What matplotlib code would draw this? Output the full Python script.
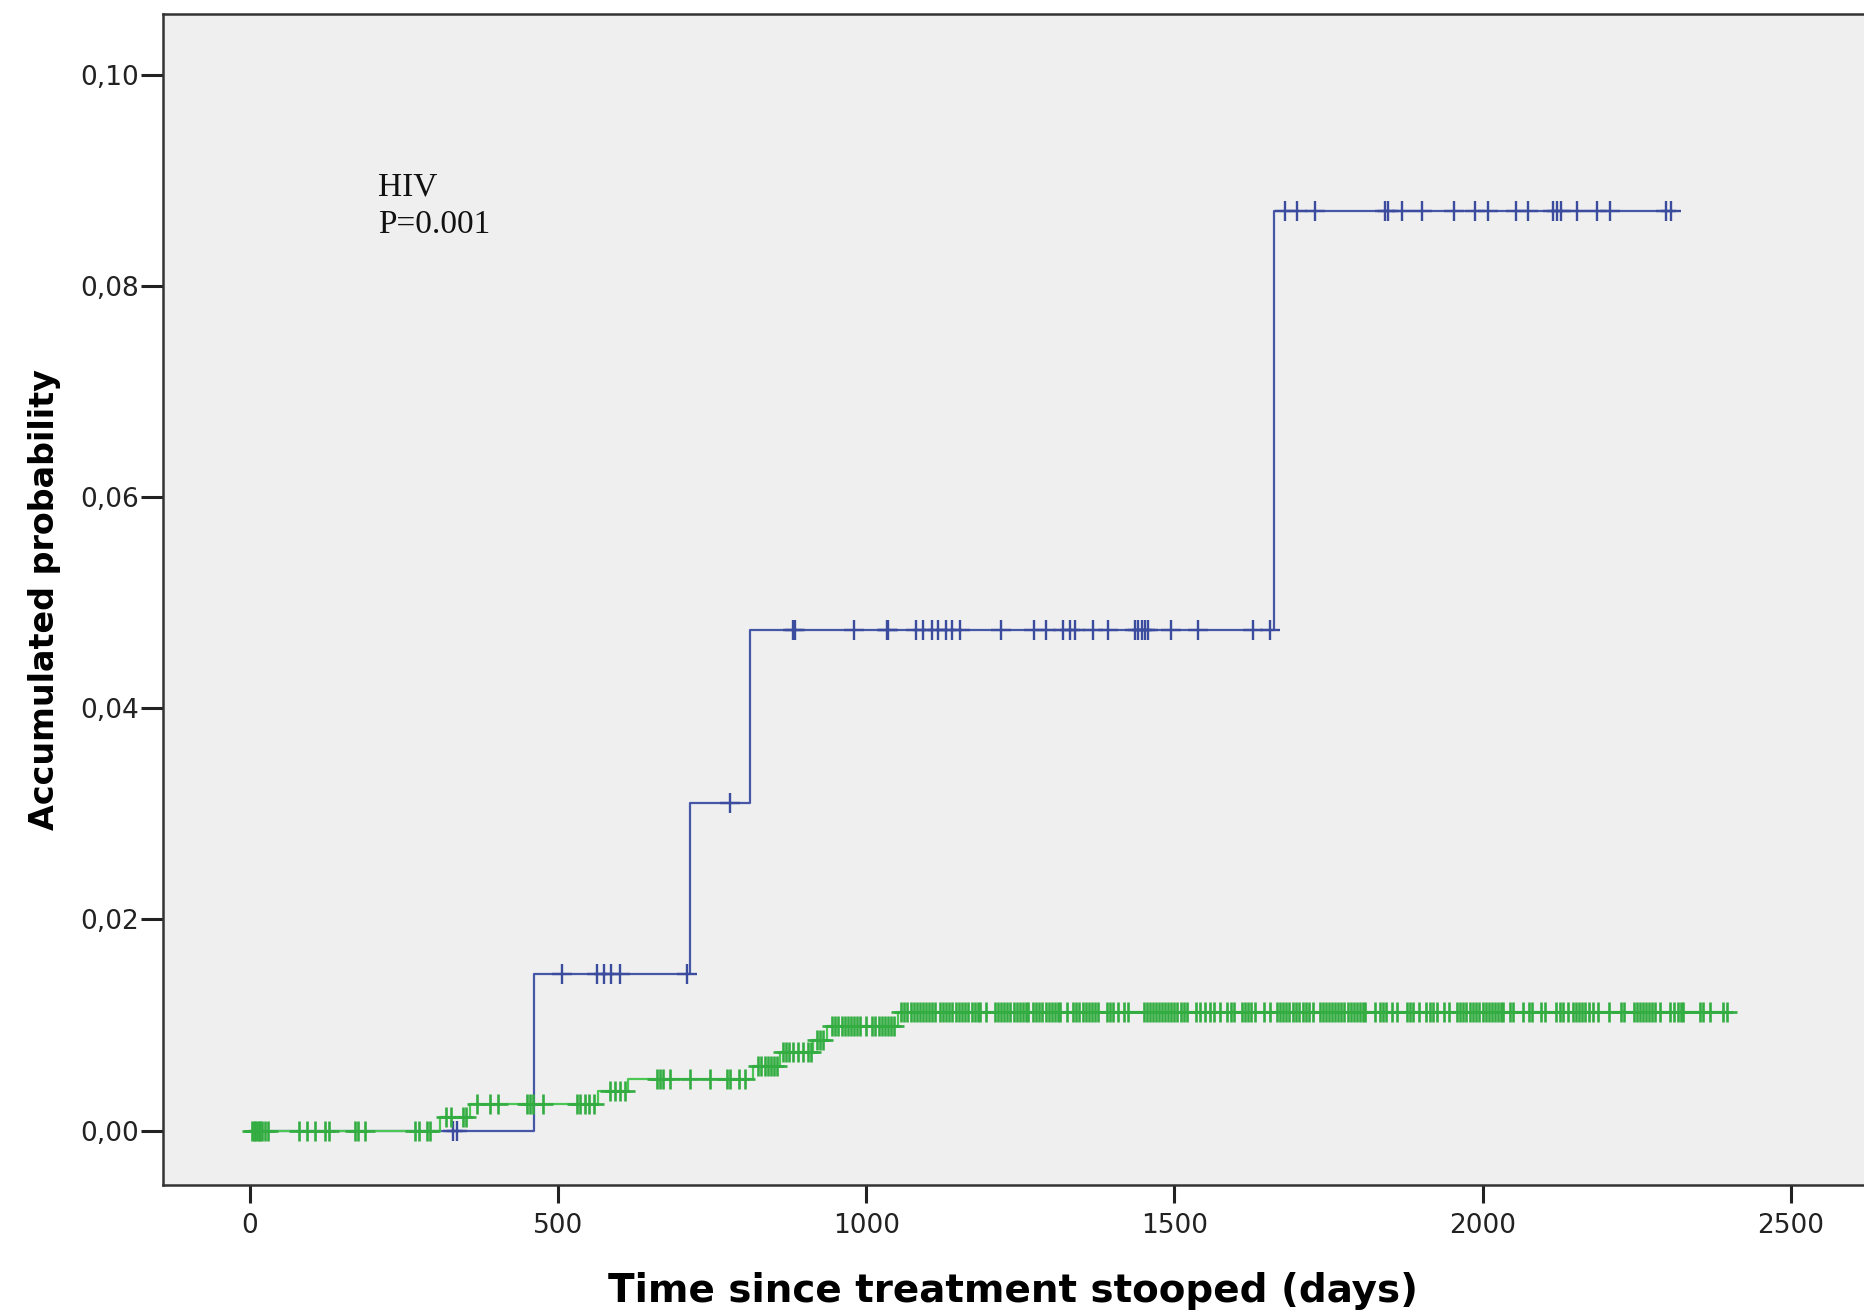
import matplotlib
matplotlib.use("Agg")
import matplotlib.pyplot as plt
import numpy as np

# Kaplan-Meier style cumulative incidence, two groups (HIV+ blue, HIV- green)
blue_event_days = [0, 461, 714, 812, 1661]
blue_levels = [0.0, 0.0148, 0.0310, 0.0474, 0.0871]
blue_censor_days = [
    330, 336,
    507, 563, 575, 586, 600, 710,
    779,
    882, 885, 981, 1033, 1036, 1081, 1092, 1106, 1117, 1129, 1140, 1152,
    1218, 1272, 1291, 1320, 1331, 1338, 1368, 1393, 1436, 1441, 1447, 1452,
    1458, 1495, 1539, 1627, 1656,
    1680, 1699, 1728, 1842, 1846, 1870, 1902, 1953, 1988, 2009, 2054, 2074,
    2115, 2121, 2128, 2153, 2185, 2207, 2298, 2306,
]

green_event_days = [0, 309, 357, 565, 614, 817, 860, 914, 936, 1052]
green_levels = [0.0, 0.00124, 0.00248, 0.0037, 0.0049, 0.0061, 0.0074, 0.0086, 0.0099, 0.0112]
green_censor_days = [
    3, 6, 9, 12, 14, 17, 20, 25, 30, 79, 93, 106, 122, 128, 171, 176, 187,
    268, 274, 287, 293,
    318, 326, 346, 350,
    368, 389, 403, 449, 455, 460, 476, 530, 536, 544, 550, 558,
    585, 593, 601, 609,
    660, 666, 671, 682, 714, 747, 774, 779, 793, 804,
    825, 830, 835, 840, 845, 850, 855,
    865, 870, 875, 882, 890, 898, 905, 910,
    920, 925, 930,
    945, 950, 955, 960, 965, 970, 975, 980, 985, 990, 1000, 1010, 1015, 1020,
    1025, 1030, 1035, 1040, 1045,
    1057, 1062, 1067, 1072, 1077, 1082, 1087, 1092, 1097, 1102, 1107, 1112,
    1120, 1125, 1130, 1135, 1140, 1145, 1150, 1155, 1160, 1165,
    1171, 1176, 1181, 1185, 1195,
    1209, 1214, 1219, 1224, 1229, 1234, 1239, 1244, 1249, 1254, 1259, 1263,
    1271, 1276, 1281, 1286, 1291, 1296, 1301, 1306, 1311, 1315,
    1325, 1336, 1341, 1346, 1351, 1356, 1361, 1366, 1371, 1376,
    1390, 1395, 1400, 1408, 1418, 1425,
    1450, 1455, 1460, 1465, 1470, 1475, 1480, 1485, 1490, 1495, 1500, 1505,
    1510, 1515, 1520,
    1535, 1542, 1549, 1558, 1565, 1574, 1586, 1592, 1596,
    1609, 1614, 1619, 1624, 1631, 1645, 1655, 1666,
    1671, 1676, 1681, 1686, 1693, 1698, 1703, 1708, 1713, 1718, 1725,
    1736, 1741, 1746, 1751, 1756, 1761, 1766, 1771, 1776, 1781, 1786, 1791,
    1796, 1801, 1806, 1810,
    1825, 1834, 1839, 1844, 1853, 1862, 1877, 1882, 1888, 1897, 1909, 1914,
    1919, 1926, 1937, 1946, 1958, 1963, 1968, 1974, 1980, 1985, 1990, 1995,
    2000, 2005, 2010, 2015, 2020, 2025, 2030, 2034, 2044, 2050, 2065, 2075,
    2080, 2095, 2101, 2120, 2125, 2131, 2139, 2147, 2152, 2157, 2162, 2167,
    2172, 2180, 2187, 2205, 2225, 2230, 2245, 2250, 2255, 2260, 2265, 2270,
    2275, 2280, 2288, 2305, 2310, 2318, 2322, 2326, 2353, 2358, 2369, 2391, 2396,
]

x_ticks = [0, 500, 1000, 1500, 2000, 2500]
y_ticks = [0.0, 0.02, 0.04, 0.06, 0.08, 0.10]

W, H = 1864, 1316
fig = plt.figure(figsize=(W / 100, H / 100), dpi=100)
ax = fig.add_axes([163 / W, 1 - 1185 / H, 1 - 163 / W, (1185 - 14) / H])
ax.set_facecolor("#efefef")


def draw_curve(events, levels, censors, line_col, mark_col, mew):
    end = max(censors)
    xs = list(events) + [end]
    ys = list(levels) + [levels[-1]]
    ax.step(xs, ys, where="post", color=line_col, lw=1.6, zorder=3)
    idx = np.searchsorted(events, censors, side="right") - 1
    cy = np.asarray(levels)[idx]
    ax.plot(censors, cy, ls="none", marker="+", ms=14, mew=mew,
            color=mark_col, zorder=4)


draw_curve(blue_event_days, blue_levels, blue_censor_days, "#4757a8", "#3b4b9e", 1.7)
draw_curve(green_event_days, green_levels, green_censor_days, "#4cc655", "#33ad42", 1.9)

ax.set_xlim(-141, 2619)
ax.set_ylim(-0.00516, 0.1058)
ax.set_xticks(x_ticks)
ax.set_yticks(y_ticks)
ax.set_xticklabels([str(t) for t in x_ticks])
ax.set_yticklabels([f"{t:.2f}".replace(".", ",") for t in y_ticks])
ax.tick_params(direction="out", width=2.2, labelsize=19, colors="#222222")
ax.tick_params(axis="y", length=16, pad=1)
ax.tick_params(axis="x", length=13, pad=7)

for side in ["left", "bottom", "top"]:
    ax.spines[side].set_linewidth(1.8)
    ax.spines[side].set_color("#333333")
ax.spines["right"].set_visible(False)

ax.set_xlabel("Time since treatment stooped (days)", fontsize=28,
              fontweight="bold", labelpad=24)
ax.set_ylabel("Accumulated probability", fontsize=24, fontweight="bold",
              labelpad=14)

ax.text(208, 0.0908, "HIV\nP=0.001", family="Liberation Serif", fontsize=24,
        va="top", ha="left", linespacing=1.3, color="#111111")

fig.savefig("out.png", dpi=100)
